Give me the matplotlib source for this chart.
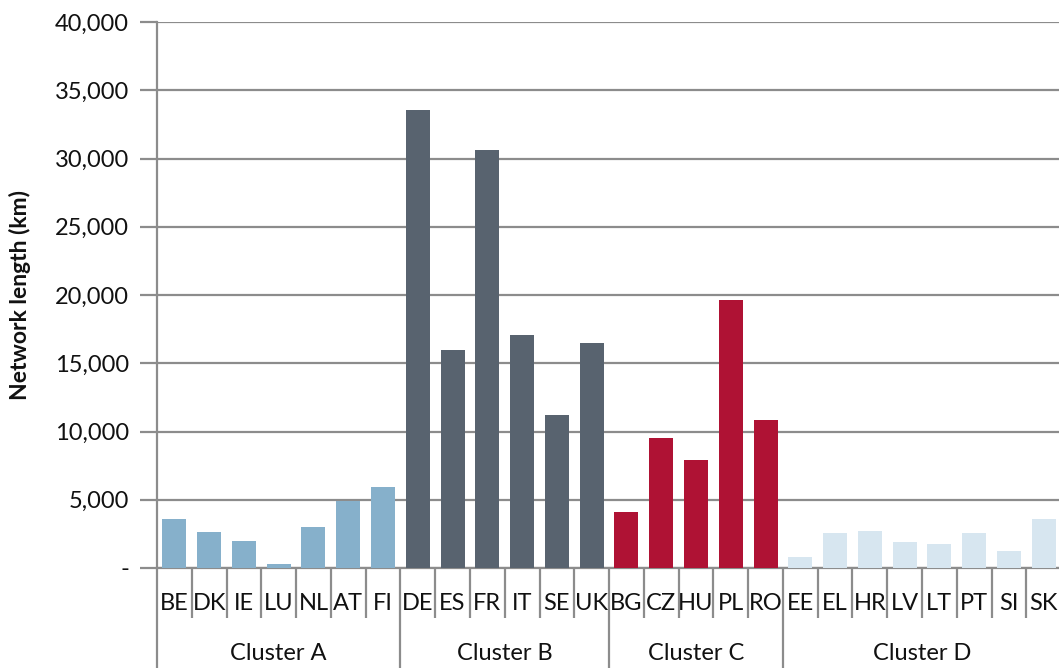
import matplotlib
matplotlib.use("Agg")
import matplotlib.pyplot as plt
import matplotlib.transforms as mtransforms
from matplotlib.ticker import FuncFormatter, MultipleLocator

plt.rcParams['font.family'] = ['Lato', 'DejaVu Sans']

clusters = ["Cluster A", "Cluster B", "Cluster C", "Cluster D"]
countries_a = ["BE", "DK", "IE", "LU", "NL", "AT", "FI"]
countries_b = ["DE", "ES", "FR", "IT", "SE", "UK"]
countries_c = ["BG", "CZ", "HU", "PL", "RO"]
countries_d = ["EE", "EL", "HR", "LV", "LT", "PT", "SI", "SK"]

length_a = [3600, 2650, 2000, 300, 3000, 4900, 5950]
length_b = [33550, 16000, 30600, 17100, 11200, 16500]
length_c = [4100, 9500, 7900, 19650, 10850]
length_d = [800, 2560, 2710, 1900, 1760, 2560, 1250, 3590]

colors = ["#86B0CB", "#58636F", "#AF1234", "#D7E6F0"]

groups = [
    (clusters[0], countries_a, length_a, colors[0]),
    (clusters[1], countries_b, length_b, colors[1]),
    (clusters[2], countries_c, length_c, colors[2]),
    (clusters[3], countries_d, length_d, colors[3]),
]

W, H = 1059, 668
fig = plt.figure(figsize=(W / 100, H / 100), dpi=100)
ax = fig.add_axes([157 / W, 1 - 568 / H, (W - 157) / W + 0.002, (568 - 22) / H])

grid_color = "#8C8C8C"
text_color = "#111111"
fs = 17

labels = []
pos = 0
group_spans = []
for name, cats, vals, col in groups:
    xs = list(range(pos, pos + len(cats)))
    ax.bar(xs, vals, width=0.69, color=col, zorder=3)
    labels.extend(cats)
    group_spans.append((name, pos, pos + len(cats)))
    pos += len(cats)

n = len(labels)
ax.set_xlim(-0.5, n - 0.5)
ax.set_ylim(0, 40000)
ax.yaxis.set_major_locator(MultipleLocator(5000))
ax.yaxis.set_major_formatter(FuncFormatter(lambda v, p: "-" if v == 0 else f"{int(v):,}"))
ax.grid(axis="y", color=grid_color, linewidth=1.6, zorder=0)
ax.set_axisbelow(True)

for s in ["top", "right"]:
    ax.spines[s].set_visible(False)
ax.spines["left"].set_color(grid_color)
ax.spines["left"].set_linewidth(1.6)
ax.spines["bottom"].set_color(grid_color)
ax.spines["bottom"].set_linewidth(1.6)

ax.tick_params(axis="y", length=12, width=1.6, color=grid_color, labelsize=fs,
               labelcolor=text_color, pad=8)
ax.set_xticks([])

ax.set_ylabel("Network length (km)", fontsize=16.5, fontweight="bold",
              labelpad=17, color=text_color)

# Two-level category axis below the plot area
trans = mtransforms.blended_transform_factory(ax.transData, ax.transAxes)
ah = 546.0
cat_bottom = -50 / ah
grp_bottom = -101 / ah
for i, lab in enumerate(labels):
    ax.text(i, -35 / ah, lab, transform=trans, ha="center", va="center",
            fontsize=fs, color=text_color)
group_edges = {s for _, s, _ in group_spans} | {e for _, _, e in group_spans}
for b in range(n + 1):
    x = b - 0.5
    y0 = grp_bottom if b in group_edges else cat_bottom
    ax.plot([x, x], [0, y0], transform=trans, color=grid_color, lw=1.6,
            clip_on=False, zorder=1, solid_capstyle="butt")
for name, s, e in group_spans:
    ax.text((s + e - 1) / 2, -85 / ah, name, transform=trans, ha="center",
            va="center", fontsize=fs, color=text_color)

fig.savefig("out.png", dpi=100)
